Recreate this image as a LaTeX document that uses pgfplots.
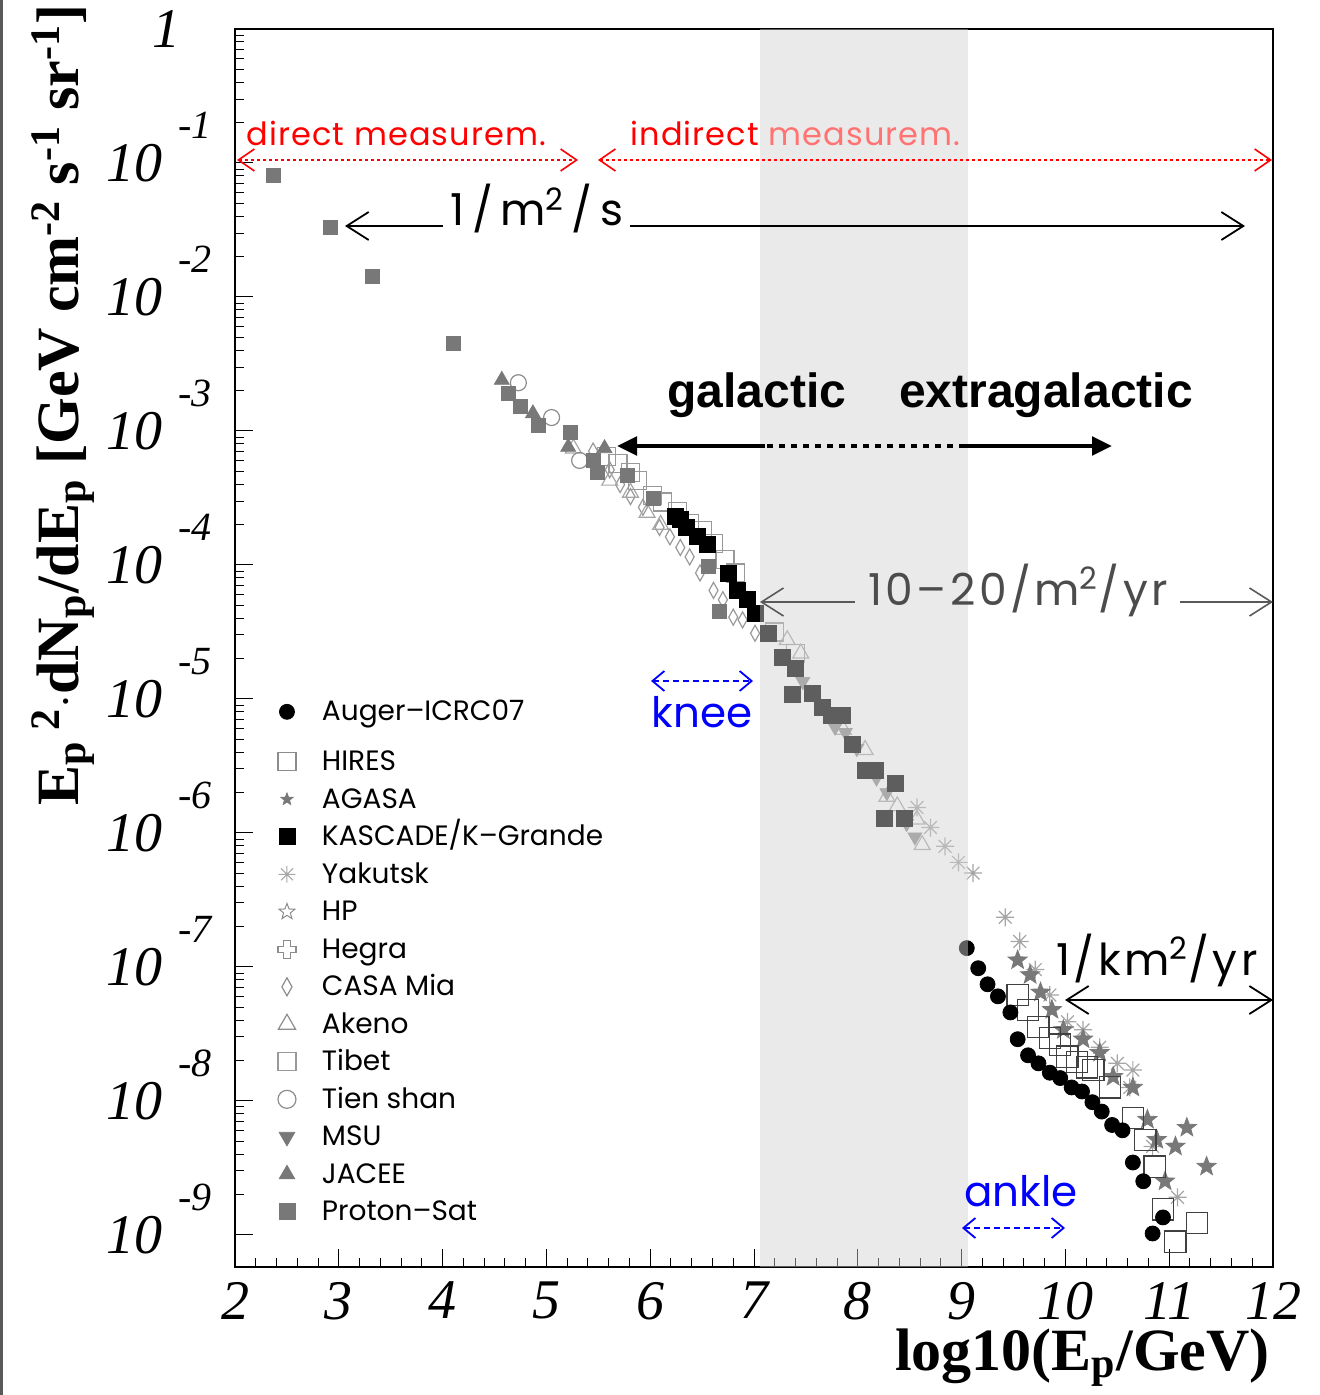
\documentclass[border=0pt]{standalone}
\usepackage{fontspec}
\setmainfont{Liberation Serif}
\newfontfamily\gothic{Poppins}
\newfontfamily\gothicw{Poppins}[LetterSpace=8]
\newfontfamily\gothicr{Poppins}[LetterSpace=3.5]
\newfontfamily\arialf{Liberation Sans}
\usepackage{pgfplots}
\pgfplotsset{compat=1.18}
\usepackage{pgfplotstable}
\usetikzlibrary{arrows.meta,plotmarks}

\pgfdeclareplotmark{ocross}{%
  \pgfpathmoveto{\pgfqpoint{-0.35\pgfplotmarksize}{\pgfplotmarksize}}%
  \pgfpathlineto{\pgfqpoint{0.35\pgfplotmarksize}{\pgfplotmarksize}}%
  \pgfpathlineto{\pgfqpoint{0.35\pgfplotmarksize}{0.35\pgfplotmarksize}}%
  \pgfpathlineto{\pgfqpoint{\pgfplotmarksize}{0.35\pgfplotmarksize}}%
  \pgfpathlineto{\pgfqpoint{\pgfplotmarksize}{-0.35\pgfplotmarksize}}%
  \pgfpathlineto{\pgfqpoint{0.35\pgfplotmarksize}{-0.35\pgfplotmarksize}}%
  \pgfpathlineto{\pgfqpoint{0.35\pgfplotmarksize}{-\pgfplotmarksize}}%
  \pgfpathlineto{\pgfqpoint{-0.35\pgfplotmarksize}{-\pgfplotmarksize}}%
  \pgfpathlineto{\pgfqpoint{-0.35\pgfplotmarksize}{-0.35\pgfplotmarksize}}%
  \pgfpathlineto{\pgfqpoint{-\pgfplotmarksize}{-0.35\pgfplotmarksize}}%
  \pgfpathlineto{\pgfqpoint{-\pgfplotmarksize}{0.35\pgfplotmarksize}}%
  \pgfpathlineto{\pgfqpoint{-0.35\pgfplotmarksize}{0.35\pgfplotmarksize}}%
  \pgfpathclose\pgfusepathqstroke}
\pgfdeclareplotmark{fstar}{%
  \pgfpathmoveto{\pgfpointpolar{90}{\pgfplotmarksize}}%
  \pgfpathlineto{\pgfpointpolar{126}{0.42\pgfplotmarksize}}%
  \pgfpathlineto{\pgfpointpolar{162}{\pgfplotmarksize}}%
  \pgfpathlineto{\pgfpointpolar{198}{0.42\pgfplotmarksize}}%
  \pgfpathlineto{\pgfpointpolar{234}{\pgfplotmarksize}}%
  \pgfpathlineto{\pgfpointpolar{270}{0.42\pgfplotmarksize}}%
  \pgfpathlineto{\pgfpointpolar{306}{\pgfplotmarksize}}%
  \pgfpathlineto{\pgfpointpolar{342}{0.42\pgfplotmarksize}}%
  \pgfpathlineto{\pgfpointpolar{18}{\pgfplotmarksize}}%
  \pgfpathlineto{\pgfpointpolar{54}{0.42\pgfplotmarksize}}%
  \pgfpathclose\pgfusepathqfillstroke}
\pgfdeclareplotmark{ast8}{%
  \pgfpathmoveto{\pgfpointpolar{0}{\pgfplotmarksize}}\pgfpathlineto{\pgfpointpolar{180}{\pgfplotmarksize}}%
  \pgfpathmoveto{\pgfpointpolar{45}{\pgfplotmarksize}}\pgfpathlineto{\pgfpointpolar{225}{\pgfplotmarksize}}%
  \pgfpathmoveto{\pgfpointpolar{90}{\pgfplotmarksize}}\pgfpathlineto{\pgfpointpolar{270}{\pgfplotmarksize}}%
  \pgfpathmoveto{\pgfpointpolar{135}{\pgfplotmarksize}}\pgfpathlineto{\pgfpointpolar{315}{\pgfplotmarksize}}%
  \pgfusepathqstroke}

\newcommand\ticksize{\fontsize{28}{28}\selectfont}
\newcommand\expsize{\fontsize{20}{20}\selectfont}
\newcommand\ylab[1]{\ticksize\itshape 10\hspace{8pt}\smash{\raisebox{21.5pt}{\expsize #1}}}
\newcommand\yone{\ticksize\itshape\hphantom{1}1\hspace{-1pt}\hphantom{\expsize -1}}

% ---------------- data: x = log10(E/GeV), y = log10(flux) ----------------
\pgfplotstableread{
x y
9.05 -6.86
9.16 -7.01
9.25 -7.13
9.35 -7.22
9.47 -7.34
9.54 -7.54
9.64 -7.66
9.74 -7.72
9.85 -7.79
9.95 -7.83
10.06 -7.90
10.16 -7.93
10.26 -8.01
10.35 -8.08
10.45 -8.18
10.55 -8.22
10.65 -8.46
10.75 -8.60
10.94 -8.87
10.84 -8.99
11.27 -9.26
}\auger
\pgfplotstableread{
x y
9.54 -7.21
9.64 -7.32
9.74 -7.45
9.85 -7.53
9.95 -7.58
10.02 -7.67
10.11 -7.71
10.21 -7.75
10.27 -7.77
10.43 -7.90
10.65 -8.13
10.77 -8.29
10.86 -8.49
10.94 -8.81
11.06 -9.05
11.27 -8.91
}\hires
\pgfplotstableread{
x y
9.54 -6.95
9.66 -7.06
9.76 -7.19
9.87 -7.32
9.98 -7.47
10.17 -7.54
10.33 -7.64
10.46 -7.82
10.65 -7.90
10.79 -8.14
10.88 -8.29
10.96 -8.60
11.06 -8.34
11.17 -8.20
11.36 -8.49
}\agasa
\pgfplotstableread{
x y
6.24 -3.64
6.29 -3.66
6.35 -3.72
6.45 -3.79
6.55 -3.85
6.75 -4.06
6.84 -4.19
6.94 -4.26
7.01 -4.36
7.14 -4.51
7.27 -4.69
7.40 -4.77
7.37 -4.97
7.56 -4.96
7.66 -5.06
7.75 -5.12
7.85 -5.12
7.95 -5.34
8.07 -5.53
8.17 -5.53
8.36 -5.63
8.26 -5.89
8.45 -5.89
}\kascade
\pgfplotstableread{
x y
8.57 -5.81
8.70 -5.96
8.84 -6.10
8.97 -6.22
9.11 -6.30
9.42 -6.63
9.56 -6.81
9.71 -7.02
9.85 -7.21
10.02 -7.41
10.17 -7.47
10.33 -7.60
10.50 -7.72
10.65 -7.77
10.62 -7.90
10.84 -8.34
11.08 -8.72
}\yakutsk
\pgfplotstableread{
x y
5.45 -3.15
5.61 -3.29
5.71 -3.40
5.81 -3.49
5.93 -3.57
6.09 -3.72
6.19 -3.79
6.29 -3.87
6.38 -3.94
6.48 -4.06
6.61 -4.19
6.70 -4.26
6.80 -4.39
6.89 -4.41
7.01 -4.51
}\casa
\pgfplotstableread{
x y
5.26 -3.13
5.61 -3.37
5.81 -3.46
5.97 -3.61
6.10 -3.70
7.32 -4.56
7.45 -4.66
7.86 -5.23
8.07 -5.38
8.28 -5.73
8.38 -5.80
8.57 -5.90
8.62 -6.09
}\akeno
\pgfplotstableread{
x y
5.58 -3.19
5.69 -3.24
5.81 -3.31
5.88 -3.37
6.02 -3.48
6.12 -3.53
6.26 -3.60
6.38 -3.69
6.50 -3.74
6.61 -3.84
6.72 -3.96
6.82 -4.06
7.20 -4.50
7.40 -4.66
}\tibet
\pgfplotstableread{
x y
4.73 -2.64
5.05 -2.90
5.32 -3.22
}\tienshan
\pgfplotstableread{
x y
7.47 -4.87
7.78 -5.21
7.88 -5.25
7.99 -5.37
8.18 -5.59
8.28 -5.70
8.47 -5.93
8.55 -6.03
}\msu
\pgfplotstableread{
x y
4.57 -2.62
4.87 -2.87
5.21 -3.12
5.56 -3.13
}\jacee
\pgfplotstableread{
x y
2.37 -1.09
2.92 -1.48
3.32 -1.85
4.10 -2.35
4.63 -2.72
4.75 -2.82
4.92 -2.96
5.23 -3.01
5.45 -3.22
5.49 -3.31
5.78 -3.33
6.03 -3.50
6.56 -4.01
6.67 -4.35
}\protonsat

\begin{document}
\begin{tikzpicture}
\useasboundingbox (0,0) rectangle (659.5pt,-697.5pt);
\fill[black!65] (0,0) rectangle (1.5pt,-697.5pt);
\begin{axis}[
  at={(117.5pt,-633.5pt)}, anchor=south west,
  scale only axis, width=519pt, height=619pt,
  xmin=2, xmax=12, ymode=log, ymin=5.75e-10, ymax=1,
  xtick={2,3,4,5,6,7,8,9,10,11,12},
  xticklabels={2,3,4,5,6,7,8,9,10,11,12},
  minor x tick num=4,
  ytickten={-9,-8,-7,-6,-5,-4,-3,-2,-1,0},
  yticklabels={\ylab{-9},\ylab{-8},\ylab{-7},\ylab{-6},\ylab{-5},\ylab{-4},\ylab{-3},\ylab{-2},\ylab{-1},\yone},
  tick pos=left, tick align=inside,
  major tick length=9pt, minor tick length=4.5pt,
  every tick/.style={black, line width=0.5pt},
  axis line style={line width=0.8pt},
  xticklabel style={font=\ticksize\itshape, yshift=-4pt},
  yticklabel style={xshift=-8pt},
  legend style={at={(axis cs:2.414,1.12e-5)}, anchor=north west, draw=none, fill=none,
    inner sep=0pt, outer sep=0pt, row sep=0pt,
    font=\gothic\fontsize{14}{14}\selectfont,
    cells={anchor=base west},
    nodes={inner sep=0pt, text height=14.25pt, text depth=4.5pt},
    /tikz/every odd column/.append style={column sep=13pt}},
  legend image post style={yshift=4.5pt},
]
% legend entries
\addlegendimage{only marks, mark=*, black, mark size=3.75pt}
\addlegendentry[text depth=10.75pt]{Auger\textendash ICRC07}
\addlegendimage{only marks, mark=square, black!45, mark size=4.5pt, mark options={line width=0.6pt}}
\addlegendentry{HIRES}
\addlegendimage{only marks, mark=fstar, mark size=3.2pt, mark options={fill=black!53, draw=black!53}}
\addlegendentry{AGASA}
\addlegendimage{only marks, mark=square*, black, mark size=4pt}
\addlegendentry{KASCADE/K\textendash Grande}
\addlegendimage{only marks, mark=ast8, mark size=4.2pt, mark options={draw=black!35, line width=0.5pt}}
\addlegendentry{Yakutsk}
\addlegendimage{only marks, mark=fstar, mark size=4.2pt, mark options={fill=white, draw=black!45, line width=0.5pt}}
\addlegendentry{HP}
\addlegendimage{only marks, mark=ocross, mark size=4.5pt, mark options={draw=black!45, line width=0.6pt}}
\addlegendentry{Hegra}
\addlegendimage{only marks, mark=diamond, mark size=4.5pt, mark options={draw=black!45, xscale=0.75, line width=0.6pt}}
\addlegendentry{CASA Mia}
\addlegendimage{only marks, mark=triangle, mark size=5pt, mark options={draw=black!45, line width=0.6pt}}
\addlegendentry{Akeno}
\addlegendimage{only marks, mark=square, mark size=4.5pt, mark options={draw=black!40, line width=0.6pt}}
\addlegendentry{Tibet}
\addlegendimage{only marks, mark=o, mark size=4.5pt, mark options={draw=black!45, line width=0.6pt}}
\addlegendentry{Tien shan}
\addlegendimage{only marks, mark=triangle*, mark size=4.5pt, mark options={fill=black!53, draw=black!53, rotate=180}}
\addlegendentry{MSU}
\addlegendimage{only marks, mark=triangle*, mark size=4.5pt, mark options={fill=black!53, draw=black!53}}
\addlegendentry{JACEE}
\addlegendimage{only marks, mark=square*, mark size=4pt, mark options={fill=black!53, draw=black!53}}
\addlegendentry{Proton\textendash Sat}

% data
\addplot[forget plot, only marks, mark=diamond, mark size=4pt, mark options={draw=black!40, xscale=0.75, line width=0.6pt}] table[x=x, y expr=10^(\thisrow{y})] {\casa};
\addplot[forget plot, only marks, mark=triangle, mark size=4.6pt, mark options={draw=black!35, line width=0.6pt}] table[x=x, y expr=10^(\thisrow{y})] {\akeno};
\addplot[forget plot, only marks, mark=square, mark size=4.5pt, mark options={draw=black!40, line width=0.6pt}] table[x=x, y expr=10^(\thisrow{y})] {\tibet};
\addplot[forget plot, only marks, mark=o, mark size=4pt, mark options={draw=black!45, line width=0.6pt}] table[x=x, y expr=10^(\thisrow{y})] {\tienshan};
\addplot[forget plot, only marks, mark=triangle*, mark size=4.3pt, mark options={fill=black!53, draw=black!53}] table[x=x, y expr=10^(\thisrow{y})] {\jacee};
\addplot[forget plot, only marks, mark=square*, mark size=3.5pt, mark options={fill=black!53, draw=black!53}] table[x=x, y expr=10^(\thisrow{y})] {\protonsat};
\addplot[forget plot, only marks, mark=triangle*, mark size=4pt, mark options={fill=black!45, draw=black!45, rotate=180}] table[x=x, y expr=10^(\thisrow{y})] {\msu};
\addplot[forget plot, only marks, mark=ast8, mark size=4.5pt, mark options={draw=black!35, line width=0.6pt}] table[x=x, y expr=10^(\thisrow{y})] {\yakutsk};
\addplot[forget plot, only marks, mark=fstar, mark size=5pt, mark options={fill=black!53, draw=black!53}] table[x=x, y expr=10^(\thisrow{y})] {\agasa};
\addplot[forget plot, only marks, mark=square, mark size=5.3pt, mark options={draw=black!75, line width=0.6pt}] table[x=x, y expr=10^(\thisrow{y})] {\hires};
\addplot[forget plot, only marks, mark=square*, mark size=4pt, mark options={fill=black, draw=black}] table[x=x, y expr=10^(\thisrow{y})] {\kascade};
\addplot[forget plot, only marks, mark=*, mark size=3.75pt, mark options={fill=black, draw=black}] table[x=x, y expr=10^(\thisrow{y})] {\auger};
\end{axis}

\begin{scope}[x=0.5pt,y=-0.5pt]
% shaded knee-ankle band (x = 7.05 ... 9.05), laid over the data
\fill[black!18, opacity=0.45] (760,29) rectangle (968,1267);

% axis titles
\node[rotate=90, anchor=base, inner sep=0pt, font=\bfseries\fontsize{30}{30}\selectfont] at (78,405)
  {E\textsubscript{p}\,\textsuperscript{2}$\cdot$dN\textsubscript{p}/dE\textsubscript{p} [GeV cm\textsuperscript{-2} s\textsuperscript{-1} sr\textsuperscript{-1}]};
\node[anchor=base east, inner sep=0pt, font=\bfseries\fontsize{30}{30}\selectfont] at (1270,1370)
  {log10(E\textsubscript{p}/GeV)};

% red direct / indirect
\node[anchor=base west, inner sep=0pt, text=red, font=\gothicr\fontsize{16}{16}\selectfont] at (246,146) {direct measurem.};
\node[anchor=base west, inner sep=0pt, font=\gothicr\fontsize{16}{16}\selectfont] at (630,146) {\textcolor{red}{indirect} \textcolor{red!55}{measurem.}};
\draw[red, line width=0.8pt, dash pattern=on 1.2pt off 1.8pt,
  {Straight Barb[length=8pt,width=11pt]}-{Straight Barb[length=8pt,width=11pt]}] (237,160) -- (578,160);
\draw[red, line width=0.8pt, dash pattern=on 1.2pt off 1.8pt,
  {Straight Barb[length=8pt,width=11pt]}-{Straight Barb[length=8pt,width=11pt]}] (598,160) -- (1272,160);

% 1/m2/s
\draw[line width=0.9pt, {Straight Barb[length=11pt,width=14pt]}-] (345,226) -- (443,226);
\draw[line width=0.9pt, -{Straight Barb[length=11pt,width=14pt]}] (630,226) -- (1245,226);
\node[anchor=base, inner sep=0pt, font=\gothicw\fontsize{22}{22}\selectfont] at (537,226) {1\,/\,m\textsuperscript{2}\,/\,s};

% galactic / extragalactic
\node[anchor=base, inner sep=0pt, font=\arialf\bfseries\fontsize{24}{24}\selectfont] at (757,408) {galactic};
\node[anchor=base, inner sep=0pt, font=\arialf\bfseries\fontsize{24}{24}\selectfont] at (1046,408) {extragalactic};
\draw[line width=2.4pt, {Triangle[length=10pt,width=9pt]}-] (617,446) -- (765,446);
\draw[line width=2.4pt, dash pattern=on 3pt off 3pt] (767,446) -- (965,446);
\draw[line width=2.4pt, -{Triangle[length=10pt,width=9pt]}] (965,446) -- (1112,446);

% 10-20/m2/yr
\draw[black!65, line width=0.8pt, {Straight Barb[length=11pt,width=14pt]}-] (760,602) -- (855,602);
\draw[black!65, line width=0.8pt, -{Straight Barb[length=11pt,width=14pt]}] (1180,602) -- (1273,602);
\node[anchor=base, inner sep=0pt, text=black!70, font=\gothicw\fontsize{22}{22}\selectfont] at (1018,605) {10\textendash 20/m\textsuperscript{2}/yr};

% knee
\draw[blue, line width=0.9pt, dash pattern=on 3pt off 2pt,
  {Straight Barb[length=6pt,width=10pt]}-{Straight Barb[length=6pt,width=10pt]}] (651,681) -- (753,681);
\node[anchor=base, inner sep=0pt, text=blue, font=\gothic\fontsize{21}{21}\selectfont] at (702,727) {knee};

% 1/km2/yr
\draw[line width=0.9pt, {Straight Barb[length=11pt,width=14pt]}-{Straight Barb[length=11pt,width=14pt]}] (1065,1000) -- (1273,1000);
\node[anchor=base, inner sep=0pt, font=\gothicw\fontsize{22}{22}\selectfont] at (1157,975) {1/km\textsuperscript{2}/yr};

% ankle
\node[anchor=base, inner sep=0pt, text=blue, font=\gothic\fontsize{21}{21}\selectfont] at (1021,1206) {ankle};
\draw[blue, line width=0.9pt, dash pattern=on 3pt off 2pt,
  {Straight Barb[length=6pt,width=10pt]}-{Straight Barb[length=6pt,width=10pt]}] (962,1228) -- (1065,1228);
\end{scope}
\end{tikzpicture}
\end{document}
